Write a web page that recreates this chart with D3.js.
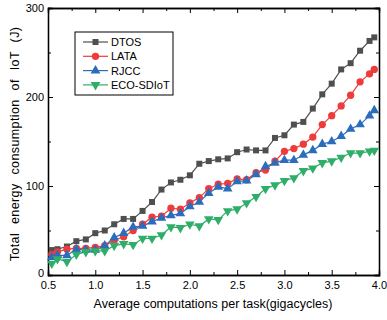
<!DOCTYPE html>
<html>
<head>
<meta charset="utf-8">
<script src="https://cdn.jsdelivr.net/npm/d3@7"></script>
<style>
  body { margin: 0; background: #fff; }
  text { font-family: "Liberation Sans", Arial, sans-serif; }
</style>
</head>
<body>
<div id="chart"></div>
<script>
// x positions of the points (gigacycles)
const xValues = [0.54, 0.6, 0.7, 0.8, 0.9, 1.0, 1.1, 1.2, 1.3, 1.4, 1.5, 1.6, 1.7, 1.8, 1.9, 2.0, 2.1, 2.2,
  2.3, 2.4, 2.5, 2.6, 2.7, 2.8, 2.9, 3.0, 3.1, 3.2, 3.3, 3.4, 3.5, 3.6, 3.7, 3.8, 3.9, 3.95];

const dtos = [28, 29, 32, 38, 40, 47, 50, 57, 63, 63, 72, 82, 96, 104, 107, 112, 125, 128,
  130, 131, 138, 141, 140, 140, 154, 157, 169, 172, 187, 203, 215, 231, 238, 252, 263, 267];
const lata = [23, 26, 29, 30, 30, 31, 33, 39, 43, 50, 57, 65, 66, 75, 74, 81, 87, 97,
  102, 103, 108, 107, 115, 118, 128, 139, 142, 147, 155, 169, 179, 190, 202, 217, 226, 231];
const rjcc = [20, 22, 22, 29, 28, 28, 33, 42, 47, 54, 55, 60, 64, 67, 69, 77, 82, 92,
  99, 97, 105, 106, 113, 122, 126, 129, 129, 135, 140, 147, 150, 156, 164, 169, 179, 185];
const eco = [13, 18, 15, 23, 26, 27, 27, 33, 35, 34, 41, 41, 45, 54, 53, 57, 55, 63,
  62, 72, 74, 81, 88, 97, 101, 106, 109, 117, 120, 126, 128, 132, 137, 137, 139, 140];

const seriesNames = ['DTOS', 'LATA', 'RJCC', 'ECO-SDIoT'];
const seriesColors = ['#4f4f4f', '#ee3b3b', '#2b6dbd', '#2fae69'];
const seriesSymbols = [d3.symbolSquare, d3.symbolCircle, d3.symbolTriangle, d3.symbolTriangle];
const xTicks = [0.5, 1.0, 1.5, 2.0, 2.5, 3.0, 3.5, 4.0];
const yTicks = [0, 100, 200, 300];

const series = [dtos, lata, rjcc, eco];

const width = 387, height = 320;
const margin = { left: 48, right: 8, top: 8, bottom: 45 };
const innerW = width - margin.left - margin.right;
const innerH = height - margin.top - margin.bottom;

const svg = d3.select('#chart')
  .append('svg')
  .attr('width', width)
  .attr('height', height);

const g = svg.append('g')
  .attr('transform', `translate(${margin.left}, ${margin.top})`);

const x = d3.scaleLinear().domain([0.5, 4.0]).range([0, innerW]);
const y = d3.scaleLinear().domain([0, 300]).range([innerH, 0]);

// minor ticks between the majors
const xMinor = d3.range(0.75, 4.0, 0.5);
const yMinor = [50, 150, 250];

// bottom axis, ticks pointing inward
const bottomAxis = g.append('g')
  .attr('transform', `translate(0, ${innerH})`)
  .call(d3.axisBottom(x).tickValues(xTicks).tickFormat(d3.format('.1f')).tickSize(-5).tickPadding(6));
bottomAxis.append('g').call(d3.axisBottom(x).tickValues(xMinor).tickFormat('').tickSize(-3));

// left axis
const leftAxis = g.append('g')
  .call(d3.axisLeft(y).tickValues(yTicks).tickFormat(d3.format('d')).tickSize(-5).tickPadding(4));
leftAxis.append('g').call(d3.axisLeft(y).tickValues(yMinor).tickFormat('').tickSize(-3));

// top and right mirror axes
const topAxis = g.append('g')
  .call(d3.axisTop(x).tickValues(xTicks).tickFormat('').tickSize(-5));
topAxis.append('g').call(d3.axisTop(x).tickValues(xMinor).tickFormat('').tickSize(-3));
const rightAxis = g.append('g')
  .attr('transform', `translate(${innerW}, 0)`)
  .call(d3.axisRight(y).tickValues(yTicks).tickFormat('').tickSize(-5));
rightAxis.append('g').call(d3.axisRight(y).tickValues(yMinor).tickFormat('').tickSize(-3));

g.selectAll('.domain').attr('stroke', '#000').attr('stroke-width', 1.3);
g.selectAll('.tick line').attr('stroke', '#000').attr('stroke-width', 1);
g.selectAll('.tick text').attr('font-size', 11).attr('fill', '#000')
  .style('font-family', '"Liberation Sans", Arial, sans-serif');
// nudge the y "0" up a little so it clears "0.5"
leftAxis.selectAll('.tick text').filter(d => d === 0).attr('dy', '0.1em');

// lines and markers
const line = d3.line()
  .x((d, i) => x(xValues[i]))
  .y(d => y(d));

series.forEach((vals, s) => {
  g.append('path')
    .datum(vals)
    .attr('fill', 'none')
    .attr('stroke', seriesColors[s])
    .attr('stroke-width', 1.2)
    .attr('d', line);
});

series.forEach((vals, s) => {
  const size = s === 0 ? 36 : (s === 1 ? 42 : 40);
  const rot = s === 3 ? 180 : 0;
  g.selectAll('.m' + s)
    .data(vals)
    .enter()
    .append('path')
    .attr('d', d3.symbol().type(seriesSymbols[s]).size(size))
    .attr('transform', (d, i) => `translate(${x(xValues[i])}, ${y(d)}) rotate(${rot})`)
    .attr('fill', seriesColors[s]);
});

// legend
const legend = g.append('g').attr('transform', 'translate(27, 24)');
legend.append('rect')
  .attr('width', 98)
  .attr('height', 63)
  .attr('fill', '#fff')
  .attr('stroke', '#000')
  .attr('stroke-width', 1);
seriesNames.forEach((name, s) => {
  const ly = 10 + s * 14.3;
  legend.append('line')
    .attr('x1', 8).attr('x2', 33)
    .attr('y1', ly).attr('y2', ly)
    .attr('stroke', seriesColors[s])
    .attr('stroke-width', 1.2);
  legend.append('path')
    .attr('d', d3.symbol().type(seriesSymbols[s]).size(s === 0 ? 36 : 42))
    .attr('transform', `translate(20.5, ${ly}) rotate(${s === 3 ? 180 : 0})`)
    .attr('fill', seriesColors[s]);
  legend.append('text')
    .attr('x', 36)
    .attr('y', ly + 4)
    .attr('font-size', 11)
    .text(name);
});

// axis titles
svg.append('text')
  .attr('x', 213)
  .attr('y', 308)
  .attr('text-anchor', 'middle')
  .attr('font-size', 12.5)
  .text('Average computations per task(gigacycles)');

svg.append('text')
  .attr('transform', 'rotate(-90)')
  .attr('x', -144)
  .attr('y', 19)
  .attr('text-anchor', 'middle')
  .attr('font-size', 12.5)
  .attr('letter-spacing', 0.4)
  .attr('word-spacing', 5)
  .text('Total energy consumption of IoT (J)');
</script>
</body>
</html>
